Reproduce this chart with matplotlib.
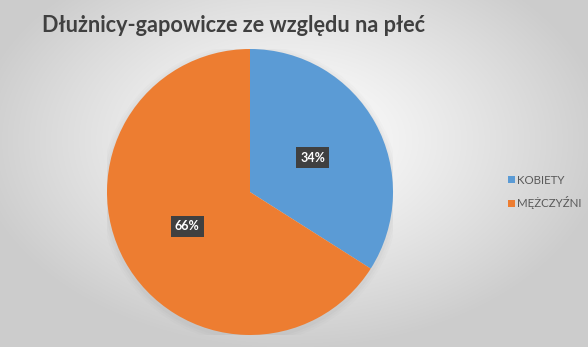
import numpy as np
import matplotlib.pyplot as plt
from matplotlib.patches import Circle

# dane
labels = ['KOBIETY', 'MĘŻCZYŹNI']
values = [34, 66]
colors = ['#5B9BD5', '#ED7D31']

plt.rcParams['font.family'] = ['Lato', 'DejaVu Sans']

W, H = 588, 347
fig = plt.figure(figsize=(W / 100, H / 100), dpi=100)

# tło z gradientem radialnym
bg = fig.add_axes([0, 0, 1, 1])
yy, xx = np.mgrid[0:H, 0:W]
d = np.sqrt(((xx - 290) / 320.0) ** 2 + ((yy - 140) / 210.0) ** 2)
g = np.clip(1.0 - 0.2 * d ** 1.2, 0.8, 1.0)
bg.imshow(np.dstack([g, g, g]), extent=[0, W, H, 0], aspect='auto')
bg.axis('off')

# koło
cx, cy, r = 250, 192, 143
ax = fig.add_axes([(cx - r) / W, (H - cy - r) / H, 2 * r / W, 2 * r / H])
for i, a in enumerate([0.05, 0.04, 0.03]):
    ax.add_patch(Circle((0.0, -0.015), 1.0 + 0.015 * (i + 1), color='#808080',
                        alpha=a, lw=0, zorder=0))
wedges, texts, autotexts = ax.pie(values, colors=colors, startangle=90, counterclock=False,
                                  autopct='%1.0f%%', pctdistance=0.5, radius=1.0,
                                  wedgeprops=dict(linewidth=0))
for t in autotexts:
    t.set_color('white')
    t.set_fontsize(9)
    t.set_fontweight('bold')
    t.set_bbox(dict(boxstyle='square,pad=0.35', fc='#404040', ec='none'))
ax.set_xlim(-1.0, 1.0)
ax.set_ylim(-1.0, 1.0)
ax.set_aspect('equal')
ax.axis('off')

fig.text(42 / W, 1 - 32 / H, 'Dłużnicy-gapowicze ze względu na płeć', fontsize=15.6,
         fontweight='bold', color='#404040', va='baseline', ha='left')

leg = fig.legend(wedges, labels, loc='center left', bbox_to_anchor=(505 / W, 1 - 192 / H),
                 frameon=False, fontsize=8.3, handlelength=0.6, handleheight=0.6,
                 handletextpad=0.15, labelspacing=0.95, labelcolor='#595959',
                 borderaxespad=0, borderpad=0.3)

fig.savefig('out.png', dpi=100)
